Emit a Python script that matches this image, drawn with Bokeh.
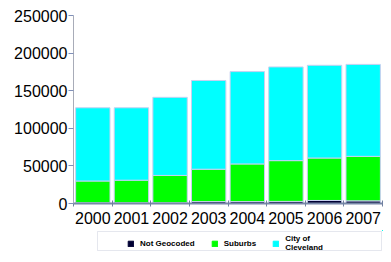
from bokeh.plotting import figure
from bokeh.layouts import column
from bokeh.models import (Range1d, FixedTicker, BasicTickFormatter, Legend, LegendItem,
                          ColumnDataSource, BoxAnnotation)
from bokeh.embed import file_html
from bokeh.resources import INLINE

years = ["2000", "2001", "2002", "2003", "2004", "2005", "2006", "2007"]
not_geocoded = [1000, 1000, 1000, 2500, 2500, 2800, 4000, 3500]
suburbs = [28900, 30000, 36300, 43100, 50100, 54200, 56500, 59200]
cleveland = [97400, 96300, 103900, 118000, 122800, 124600, 123300, 122300]
series = ["Not Geocoded", "Suburbs", "City of\nCleveland"]
colors = ["#000033", "#00ff00", "#00ffff"]
y_ticks = [0, 50000, 100000, 150000, 200000, 250000]

x = list(range(len(years)))
src = ColumnDataSource(dict(x=x, ng=not_geocoded, sub=suburbs, cle=cleveland))

p = figure(width=383, height=230, output_backend="svg", toolbar_location=None,
           x_range=Range1d(-0.5, len(years) - 0.5), y_range=Range1d(0, 250000),
           min_border_left=73, min_border_right=1, min_border_top=15, min_border_bottom=27)
p.outline_line_color = None
p.xgrid.grid_line_color = None
p.ygrid.grid_line_color = None
p.background_fill_color = "white"

rs = p.vbar_stack(["ng", "sub", "cle"], x="x", width=0.89, source=src, color=colors,
                  line_color="#c8d0f0", line_width=1)

# x axis
xa = p.xaxis[0]
xa.ticker = FixedTicker(ticks=x, minor_ticks=[i - 0.5 for i in range(len(years) + 1)])
xa.major_label_overrides = {i: y for i, y in enumerate(years)}
xa.major_tick_line_color = None
xa.minor_tick_in = 3
xa.minor_tick_out = 3
xa.minor_tick_line_color = "#7080a0"
xa.axis_line_color = "#7888a8"
xa.axis_line_width = 2
xa.major_label_text_font = "Liberation Sans"
xa.major_label_text_font_size = "16px"
xa.major_label_text_color = "black"
xa.major_label_standoff = 2

# y axis
ya = p.yaxis[0]
ya.ticker = FixedTicker(ticks=y_ticks)
ya.formatter = BasicTickFormatter(use_scientific=False)
ya.axis_line_color = "#a8acb8"
ya.major_tick_line_color = "#8090b8"
ya.major_tick_in = 0
ya.major_tick_out = 5
ya.minor_tick_line_color = None
ya.major_label_text_font = "Liberation Sans"
ya.major_label_text_font_size = "16px"
ya.major_label_text_color = "black"
ya.major_label_standoff = 1

# legend strip (its own renderers are kept out of view; only the legend shows)
p2 = figure(width=383, height=24, output_backend="svg", toolbar_location=None,
            x_axis_location=None, y_axis_location=None, min_border=0,
            x_range=Range1d(-100, -99), y_range=Range1d(-100, -99))
p2.outline_line_color = None
p2.xgrid.grid_line_color = None
p2.ygrid.grid_line_color = None
dummies = p2.vbar_stack(["ng", "sub", "cle"], x="x", width=0.89, source=src, color=colors)

box = BoxAnnotation(left=24, right=308, top=4, bottom=23,
                    left_units="screen", right_units="screen",
                    top_units="screen", bottom_units="screen",
                    fill_color="white", fill_alpha=1,
                    line_color="#a8b0c8", line_width=1)
p2.add_layout(box)

legend = Legend(items=[LegendItem(label=s, renderers=[r]) for s, r in zip(series, dummies)],
                location=(54, 2), orientation="horizontal",
                glyph_width=7, glyph_height=7, label_standoff=6, spacing=16,
                padding=0, margin=0,
                label_text_font="Liberation Sans", label_text_font_size="8px",
                label_text_font_style="bold", label_text_color="black",
                label_text_line_height=1.1,
                border_line_color=None, background_fill_alpha=0)
p2.add_layout(legend, "center")

layout = column(p, p2, spacing=0)
open("out.html", "w").write(file_html(layout, INLINE))
